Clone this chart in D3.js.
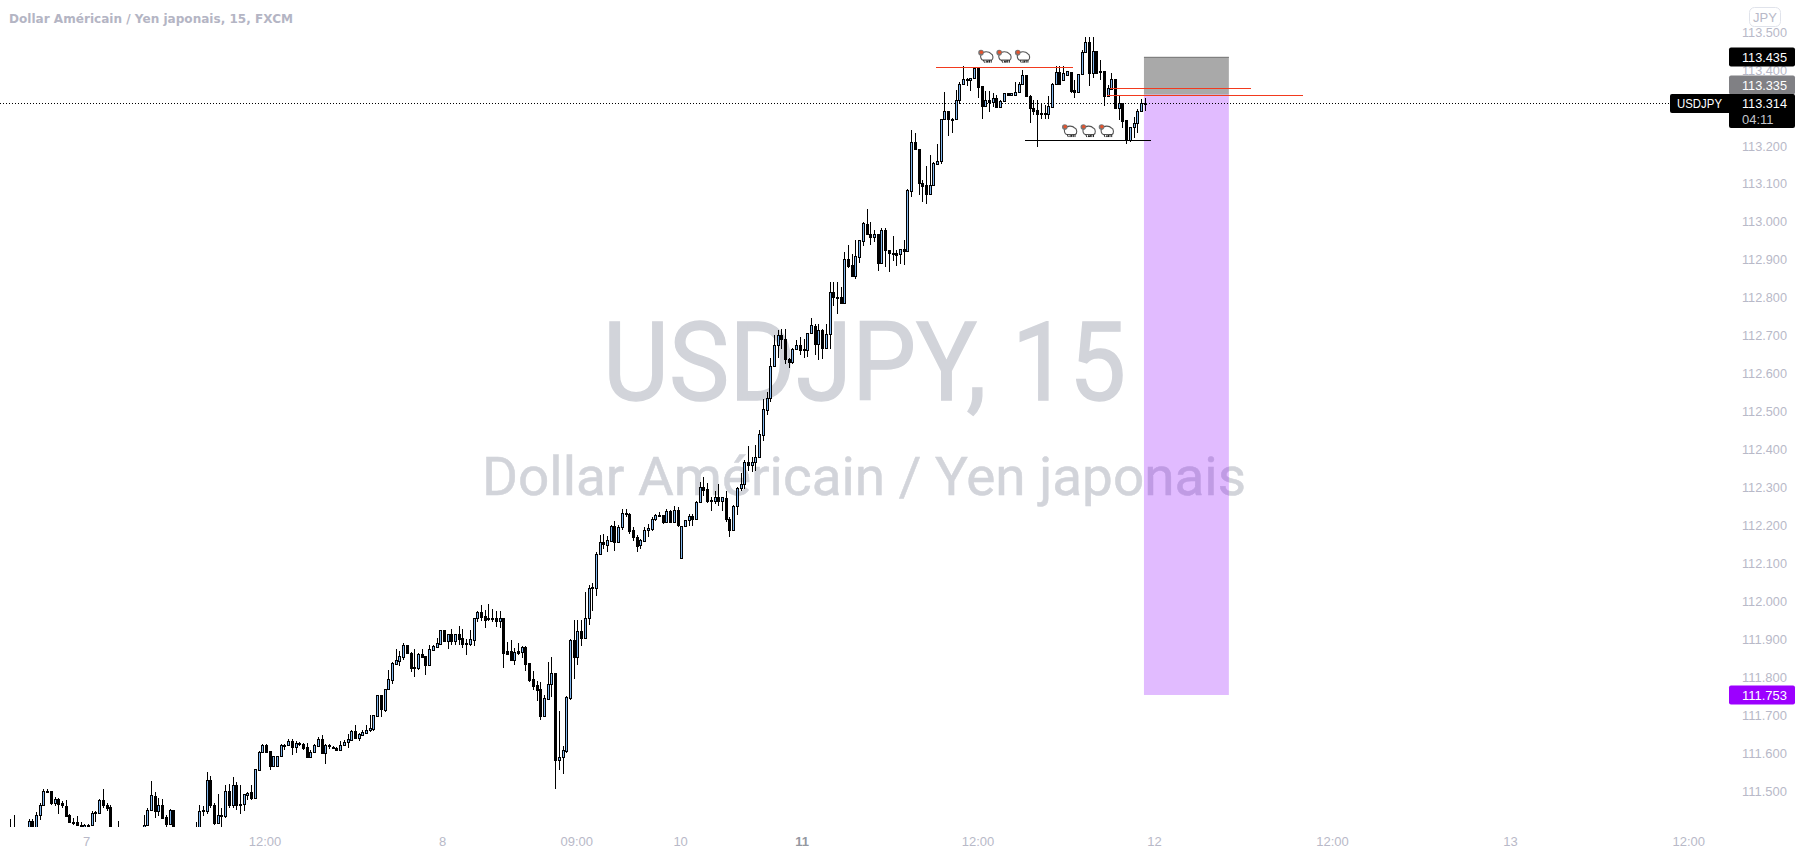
<!DOCTYPE html>
<html><head><meta charset="utf-8">
<style>html,body{margin:0;padding:0;background:#fff;overflow:hidden}svg{display:block}</style>
<script src="https://cdnjs.cloudflare.com/ajax/libs/d3/7.8.5/d3.min.js"></script>
</head><body><div id="chart"></div>
<script>
// [open, high, low, close]
const barsA = [
[111.37,111.406,111.36,111.38],[111.37,111.39,111.34,111.38],[111.38,111.427,111.36,111.38],[111.38,111.438,111.35,111.39],[111.37,111.39,111.34,111.36],[111.36,111.38,111.34,111.37],[111.37,111.39,111.35,111.38],
[111.39,111.427,111.37,111.42],[111.42,111.425,111.37,111.39],[111.403,111.444,111.39,111.438],[111.437,111.469,111.424,111.464],[111.462,111.506,111.46,111.501],[111.501,111.504,111.498,111.499],[111.499,111.501,111.463,111.469],[111.469,111.484,111.461,111.48],[111.48,111.481,111.44,111.466],[111.468,111.473,111.455,111.462],[111.461,111.477,111.435,111.435],[111.437,111.44,111.417,111.418],[111.419,111.429,111.41,111.416],[111.417,111.435,111.41,111.411],[111.411,111.418,111.4,111.405],[111.404,111.413,111.398,111.41],[111.407,111.413,111.405,111.411],[111.411,111.446,111.41,111.443],[111.442,111.447,111.417,111.444],[111.443,111.479,111.441,111.476],[111.475,111.506,111.454,111.462],[111.464,111.469,111.447,111.455],[111.457,111.464,111.36,111.38],
[111.38,111.40,111.35,111.37],[111.38,111.42,111.36,111.39],[111.37,111.39,111.35,111.38],[111.37,111.39,111.35,111.36],[111.36,111.38,111.34,111.37],[111.37,111.39,111.35,111.38],[111.37,111.39,111.35,111.36],[111.36,111.39,111.34,111.38],
[111.39,111.436,111.37,111.411],[111.41,111.454,111.407,111.451],[111.45,111.526,111.448,111.489],[111.488,111.498,111.429,111.448],[111.447,111.482,111.433,111.462],[111.462,111.478,111.427,111.429],[111.431,111.438,111.39,111.413],[111.412,111.452,111.41,111.449],[111.449,111.451,111.37,111.39],[111.39,111.404,111.36,111.38],
[111.38,111.395,111.36,111.37],[111.37,111.39,111.35,111.38]
];
const barsB = [
[111.37,111.39,111.35,111.36],[111.37,111.39,111.35,111.38],[111.38,111.418,111.36,111.39],[111.39,111.464,111.37,111.446],[111.449,111.46,111.433,111.446],[111.448,111.55,111.44,111.528],[111.528,111.539,111.455,111.462],[111.464,111.469,111.41,111.416],[111.416,111.493,111.416,111.438],[111.438,111.454,111.39,111.435],[111.435,111.517,111.429,111.499],[111.499,111.519,111.454,111.462],[111.462,111.536,111.454,111.517],[111.517,111.523,111.451,111.464],[111.467,111.517,111.44,111.462],[111.466,111.492,111.447,111.491],[111.49,111.498,111.475,111.495],[111.497,111.517,111.477,111.482],[111.482,111.558,111.481,111.557],[111.555,111.605,111.552,111.602],
[111.602,111.624,111.599,111.621],[111.621,111.625,111.601,111.603],[111.605,111.605,111.555,111.566],[111.565,111.593,111.564,111.592],[111.565,111.593,111.564,111.592],[111.591,111.623,111.59,111.621],[111.62,111.624,111.609,111.622],[111.62,111.638,111.618,111.631],[111.631,111.638,111.594,111.616],[111.616,111.631,111.599,111.626],[111.626,111.629,111.618,111.624],[111.623,111.627,111.609,111.614],[111.616,111.627,111.59,111.59],[111.59,111.609,111.59,111.603],[111.603,111.624,111.601,111.621],[111.619,111.642,111.618,111.636],[111.636,111.647,111.601,111.601],[111.601,111.623,111.572,111.621],[111.618,111.625,111.611,111.62],[111.617,111.618,111.611,111.615],[111.614,111.616,111.607,111.609],[111.609,111.633,111.607,111.62],[111.62,111.634,111.618,111.629],[111.628,111.649,111.614,111.636],[111.635,111.66,111.633,111.658],[111.658,111.674,111.638,111.64],[111.64,111.652,111.631,111.649],[111.648,111.662,111.644,111.655],[111.654,111.674,111.651,111.66],[111.66,111.70,111.656,111.665],[111.664,111.70,111.658,111.70]
];
const barsC = [
[111.697,111.754,111.695,111.753],[111.753,111.754,111.695,111.715],[111.713,111.768,111.709,111.768],[111.768,111.82,111.765,111.794],[111.792,111.841,111.783,111.836],[111.835,111.873,111.834,111.844],[111.843,111.869,111.829,111.855],[111.853,111.889,111.844,111.885],[111.885,111.885,111.862,111.863],[111.864,111.866,111.813,111.825],[111.827,111.873,111.801,111.826],[111.825,111.863,111.82,111.861],[111.861,111.873,111.851,111.854],[111.856,111.856,111.805,111.832],[111.832,111.885,111.829,111.873],[111.872,111.886,111.869,111.881],[111.879,111.902,111.876,111.889],[111.888,111.924,111.886,111.923],[111.923,111.923,111.895,111.896],[111.895,111.913,111.875,111.913],[111.913,111.926,111.886,111.895],[111.895,111.915,111.886,111.913],[111.913,111.935,111.886,111.901],[111.902,111.926,111.876,111.888],[111.891,111.90,111.858,111.888],[111.888,111.923,111.882,111.90],
[111.899,111.957,111.882,111.957],[111.957,111.974,111.946,111.972],[111.972,111.99,111.948,111.958],[111.96,111.977,111.93,111.95],[111.955,111.994,111.948,111.952],[111.955,111.979,111.946,111.952],[111.955,111.974,111.932,111.949],[111.949,111.974,111.93,111.955],[111.955,111.957,111.825,111.864],[111.868,111.893,111.858,111.862],[111.868,111.897,111.844,111.845],[111.846,111.877,111.833,111.866],[111.868,111.891,111.858,111.864],[111.867,111.882,111.851,111.879],[111.879,111.882,111.816,111.835],[111.837,111.837,111.788,111.792],[111.794,111.816,111.767,111.776],[111.779,111.789,111.737,111.767],[111.768,111.786,111.688,111.697],[111.698,111.754,111.697,111.744],[111.743,111.84,111.741,111.781],[111.781,111.853,111.747,111.81],
[111.81,111.81,111.506,111.581],[111.581,111.711,111.555,111.59],[111.59,111.619,111.546,111.607],[111.605,111.751,111.601,111.748],[111.746,111.90,111.739,111.898],[111.898,111.95,111.794,111.854],[111.854,111.95,111.831,111.921],[111.921,111.95,111.883,111.902],[111.902,112.024,111.902,111.956],[111.955,112.044,111.937,112.035],[112.037,112.048,111.975,112.034]
];
const barsD = [
[112.034,112.129,112.014,112.124],[112.124,112.175,112.122,112.155],[112.156,112.177,112.137,112.151],[112.149,112.173,112.129,112.162],[112.159,112.202,112.155,112.198],[112.198,112.212,112.133,112.156],[112.156,112.202,112.155,112.195],[112.195,112.243,112.188,112.232],[112.23,112.243,112.221,112.233],[112.23,112.232,112.177,112.186],[112.188,112.195,112.159,112.168],[112.17,112.174,112.131,112.146],[112.147,112.164,112.137,112.161],[112.159,112.196,112.158,112.188],[112.187,112.203,112.168,112.193],[112.191,112.223,112.186,112.217],[112.216,112.23,112.212,112.228],[112.226,112.234,112.221,112.228],[112.228,112.228,112.203,112.208],[112.208,112.243,112.206,112.239],[112.239,112.24,112.208,112.21],[112.21,112.25,112.208,112.241],[112.241,112.249,112.195,112.202],
[112.114,112.199,112.113,112.198],[112.197,112.215,112.197,112.215],[112.214,112.23,112.199,112.225],[112.225,112.23,112.199,112.216],[112.216,112.265,112.216,112.262],[112.261,112.315,112.259,112.302],[112.302,112.327,112.278,112.294],[112.296,112.311,112.259,112.265],[112.268,112.274,112.239,112.265],[112.263,112.291,112.256,112.274],[112.275,112.309,112.252,112.264],[112.263,112.276,112.239,112.274],[112.273,112.291,112.208,112.216],[112.218,112.221,112.17,112.189],[112.188,112.254,112.186,112.252],[112.25,112.302,112.228,112.299],[112.298,112.338,112.291,112.31],[112.309,112.371,112.296,112.368],[112.367,112.41,112.344,112.359],[112.359,112.379,112.34,112.367],[112.366,112.413,112.344,112.381],[112.379,112.452,112.378,112.441],[112.439,112.532,112.422,112.507],[112.505,112.551,112.492,112.536],[112.535,112.642,112.525,112.621],[112.62,112.701,112.62,112.676],[112.675,112.714,112.642,112.702],[112.702,112.718,112.665,112.692],[112.692,112.718,112.626,112.639],[112.639,112.642,112.614,112.63],[112.63,112.667,112.626,112.665],[112.664,112.689,112.661,112.676],[112.676,112.696,112.648,112.663],[112.664,112.692,112.642,112.662],[112.662,112.708,112.643,112.708],[112.707,112.747,112.705,112.727],[112.726,112.73,112.648,112.679],[112.678,112.73,112.636,112.716],[112.716,112.718,112.639,112.668],[112.668,112.73,112.665,112.705]
];
const barsE = [
[112.705,112.841,112.665,112.815],[112.815,112.841,112.779,112.801],[112.803,112.841,112.757,112.801],[112.803,112.828,112.786,112.786],[112.786,112.92,112.786,112.903],[112.903,112.938,112.879,112.883],[112.885,112.916,112.857,112.857],[112.857,112.951,112.848,112.909],[112.907,112.953,112.891,112.951],[112.949,113.0,112.936,112.997],[112.995,113.033,112.967,112.968],[112.969,113.0,112.938,112.96],[112.96,112.979,112.947,112.969],[112.969,112.969,112.87,112.892],[112.892,112.984,112.889,112.979],[112.979,112.984,112.881,112.926],[112.926,112.926,112.867,112.918],[112.918,112.962,112.896,112.915],[112.917,112.925,112.883,112.913],[112.914,112.929,112.889,112.929],[112.929,112.953,112.885,112.923],[112.923,113.085,112.923,113.083],
[113.081,113.242,113.064,113.209],[113.209,113.233,113.189,113.191],[113.191,113.191,113.07,113.101],[113.101,113.11,113.052,113.095],[113.096,113.147,113.048,113.074],[113.073,113.176,113.073,113.098],[113.098,113.158,113.096,113.154],[113.153,113.206,113.149,113.161],[113.161,113.272,113.151,113.271],[113.27,113.343,113.268,113.292],[113.292,113.292,113.227,113.27],[113.272,113.274,113.234,113.269],[113.271,113.347,113.269,113.322],[113.32,113.367,113.31,113.364],[113.364,113.41,113.36,113.375],[113.373,113.379,113.357,113.376],[113.374,113.38,113.345,113.38],[113.379,113.408,113.377,113.405],[113.405,113.405,113.325,113.355],[113.357,113.357,113.272,113.305],[113.305,113.345,113.305,113.322],[113.322,113.345,113.289,113.316],[113.316,113.338,113.303,113.327],[113.326,113.333,113.301,113.303],[113.303,113.32,113.301,113.317],[113.317,113.34,113.316,113.338],[113.338,113.34,113.333,113.335],[113.335,113.34,113.333,113.338],[113.335,113.369,113.333,113.343],[113.342,113.369,113.34,113.364],[113.364,113.399,113.36,113.386],[113.386,113.386,113.329,113.332]
];
const barsF = [
[113.331,113.333,113.259,113.299],[113.299,113.321,113.281,113.293],[113.294,113.321,113.198,113.284],[113.286,113.312,113.272,113.285],[113.286,113.308,113.272,113.284],[113.285,113.331,113.272,113.305],[113.303,113.365,113.301,113.363],[113.362,113.411,113.36,113.394],[113.394,113.411,113.36,113.362],[113.374,113.411,113.374,113.391],[113.387,113.398,113.387,113.396],[113.394,113.394,113.34,113.345],[113.347,113.374,113.327,113.343],[113.343,113.389,113.343,113.389],[113.389,113.452,113.387,113.447],[113.447,113.486,113.444,113.473],[113.473,113.486,113.359,113.391],[113.391,113.486,113.378,113.451],[113.451,113.451,113.391,113.391],[113.397,113.426,113.374,113.394],[113.396,113.396,113.306,113.331],[113.331,113.36,113.331,113.352],[113.35,113.391,113.35,113.375],[113.375,113.375,113.296,113.299],[113.299,113.331,113.268,113.314],[113.314,113.314,113.246,113.266],[113.268,113.268,113.206,113.215],[113.215,113.25,113.211,113.25],[113.249,113.277,113.22,113.259],[113.259,113.296,113.233,113.293],[113.293,113.323,113.29,113.312],[113.313,113.325,113.293,113.314]
];
const bars = [...barsA, ...barsB, ...barsC, ...barsD, ...barsE, ...barsF];

const priceTicks = [113.5,113.4,113.2,113.1,113.0,112.9,112.8,112.7,112.6,112.5,112.4,112.3,112.2,112.1,112.0,111.9,111.8,111.7,111.6,111.5];
const timeLabels = ["7","12:00","8","09:00","10","11","12:00","12","12:00","13","12:00"];
const timeBars = [22.5,70.6,118.5,154.7,182.7,215.5,262.9,310.5,358.5,406.5,454.6];
const lastPrice = 113.314, stopPrice = 113.435, entryPrice = 113.335, targetPrice = 111.753;
const boxBars = [307.8,330.7];
const redSegments = [[251.7,288.6,113.409],[298.6,336.6,113.352],[297.7,350.7,113.334]];
const blackSegment = [275.7,309.6,113.215];
const sheepTop = [[265.2,113.435],[270.1,113.435],[275.1,113.435]];
const sheepBottom = [[287.8,113.239],[292.8,113.239],[297.7,113.239]];

const W=1801,H=858,paneR=1729,paneB=827;
const x=d3.scaleLinear().domain([0,308]).range([2.7,1144.7]);
const y=d3.scaleLinear().domain([113.5,111.5]).range([32,791]);
const svg=d3.select("#chart").append("svg").attr("width",W).attr("height",H);
svg.append("rect").attr("width",W).attr("height",H).attr("fill","#fff");
svg.append("clipPath").attr("id","pane").append("rect").attr("width",paneR).attr("height",paneB);

// watermarks
const wm=svg.append("g").attr("fill","#d2d4da").attr("stroke","#d2d4da").attr("font-family","Roboto").attr("text-anchor","start");
wm.append("text").attr("x",603).attr("y",400).attr("font-size",110).attr("stroke-width",1.4).attr("textLength",523).attr("lengthAdjust","spacingAndGlyphs").text("USDJPY, 15");
wm.append("text").attr("x",482).attr("y",495).attr("font-size",53).attr("stroke-width",0.5).attr("textLength",764).attr("lengthAdjust","spacingAndGlyphs").text("Dollar Américain / Yen japonais");

const pane=svg.append("g").attr("clip-path","url(#pane)");
// position box: translucent fills so the watermark shows through
pane.append("rect").attr("x",x(boxBars[0])).attr("width",x(boxBars[1])-x(boxBars[0])).attr("y",y(stopPrice)).attr("height",y(entryPrice)-y(stopPrice)).attr("fill","#000").attr("fill-opacity",0.337);
pane.append("rect").attr("x",x(boxBars[0])).attr("width",x(boxBars[1])-x(boxBars[0])).attr("y",y(entryPrice)).attr("height",y(targetPrice)-y(entryPrice)).attr("fill","#8f00ff").attr("fill-opacity",0.265);
[stopPrice,entryPrice].forEach(p=>pane.append("line").attr("x1",x(boxBars[0])).attr("x2",x(boxBars[1])).attr("y1",Math.round(y(p))+.5).attr("y2",Math.round(y(p))+.5).attr("stroke","#808080"));

// last price line
pane.append("line").attr("x1",0).attr("x2",1670).attr("y1",Math.round(y(lastPrice))+.5).attr("y2",Math.round(y(lastPrice))+.5).attr("stroke","#000").attr("stroke-dasharray","1,2");

// candles
const cg=pane.append("g").attr("shape-rendering","crispEdges");
const c=cg.selectAll("g").data(bars).join("g").attr("transform",(d,i)=>`translate(${Math.round(x(i))},0)`);
c.append("rect").attr("x",0).attr("width",1).attr("fill","#000")
 .attr("y",d=>Math.round(y(Math.max(d[0],d[1],d[2],d[3])))).attr("height",d=>Math.max(1,Math.round(y(Math.min(d[0],d[1],d[2],d[3])))-Math.round(y(Math.max(d[0],d[1],d[2],d[3])))));
const top_=d=>Math.round(y(Math.max(d[0],d[3]))), bot_=d=>Math.round(y(Math.min(d[0],d[3])));
c.append("rect").attr("x",-1).attr("width",3).attr("fill","#000").attr("y",top_).attr("height",d=>Math.max(2,bot_(d)-top_(d)+1));
c.filter(d=>d[3]>=d[0]&&bot_(d)-top_(d)>=2).append("rect").attr("x",0).attr("width",1).attr("fill","#82b8f0").attr("y",d=>top_(d)+1).attr("height",d=>bot_(d)-top_(d)-1);

// drawn lines
const lg=pane.append("g").attr("shape-rendering","crispEdges");
redSegments.forEach(s=>lg.append("line").attr("x1",x(s[0])).attr("x2",x(s[1])).attr("y1",Math.round(y(s[2]))+.5).attr("y2",Math.round(y(s[2]))+.5).attr("stroke","#f23a1e"));
lg.append("line").attr("x1",x(blackSegment[0])).attr("x2",x(blackSegment[1])).attr("y1",Math.round(y(blackSegment[2]))+.5).attr("y2",Math.round(y(blackSegment[2]))+.5).attr("stroke","#000");

// sheep
function sheep(d){
  const g=pane.append("g").attr("transform",`translate(${x(d[0])},${y(d[1])})`);
  g.append("path").attr("d","M-5,-2 C-3,-6 3,-5.5 5,-3 C7.5,-2 7.5,2.5 5.5,3.5 L-3,3.5 C-5,3 -6,0 -5,-2 Z").attr("fill","#fff").attr("stroke","#555").attr("stroke-width",1.1);
  g.append("circle").attr("cx",-5).attr("cy",-4).attr("r",2.8).attr("fill","#777");
  g.append("circle").attr("cx",-4.6).attr("cy",-4.4).attr("r",1.7).attr("fill","#e5532d");
  g.append("path").attr("d","M-2.5,3.5 L-1.5,6 M0,6 L0.5,4 M1,6 L2,4 L2,6 M3.5,3.5 L3.5,6 M5.2,3.5 L5.2,6").attr("stroke","#222").attr("stroke-width",1).attr("fill","none");
}
sheepTop.forEach(sheep); sheepBottom.forEach(sheep);

// title
svg.append("text").attr("x",9).attr("y",23).attr("font-family","'DejaVu Sans'").attr("font-weight","bold").attr("font-size",12.5).attr("fill","#b4b5c4").attr("textLength",284).attr("lengthAdjust","spacingAndGlyphs").text("Dollar Américain / Yen japonais, 15, FXCM");

// price axis
const axisFont="'Liberation Sans'";
const yAxis=d3.axisRight(y).tickValues(priceTicks).tickFormat(d3.format(".3f")).tickSize(0).tickPadding(0);
const ya=svg.append("g").attr("transform","translate(1742,0)").call(yAxis);
ya.select(".domain").remove();
ya.selectAll("text").attr("font-family",axisFont).attr("font-size",13).attr("fill","#b8b9c8").attr("textLength",45).attr("lengthAdjust","spacingAndGlyphs");

// time axis
const xAxis=d3.axisBottom(x).tickValues(timeBars).tickFormat((d,i)=>timeLabels[i]).tickSize(0).tickPadding(0);
const xa=svg.append("g").attr("transform","translate(0,837)").call(xAxis);
xa.select(".domain").remove();
xa.selectAll("text").attr("font-family",axisFont).attr("font-size",13).attr("fill","#b8b9c8").attr("dy","0.71em").attr("y",0);
xa.selectAll("text").filter((d,i)=>timeLabels[i]==="11").attr("fill","#9598a1").attr("font-weight","bold");

// JPY button
svg.append("rect").attr("x",1749.5).attr("y",7.5).attr("width",31).attr("height",19).attr("rx",5).attr("fill","#fff").attr("stroke","#e0e3eb");
svg.append("text").attr("x",1765).attr("y",21.5).attr("text-anchor","middle").attr("font-family",axisFont).attr("font-size",13).attr("fill","#b8b9c8").text("JPY");

// price labels
function tag(x0,w,yT,h,fill){svg.append("rect").attr("x",x0).attr("y",yT).attr("width",w).attr("height",h).attr("rx",2).attr("fill",fill);}
function tagText(t,xx,yy,fill,len){const e=svg.append("text").attr("x",xx).attr("y",yy).attr("font-family",axisFont).attr("font-size",13).attr("fill",fill).text(t);if(len)e.attr("textLength",len).attr("lengthAdjust","spacingAndGlyphs");}
const fmt=d3.format(".3f");
// a tag can be pushed off its price (shift) when it would collide with the next one
function priceTag(p,fill,shift){const cp=Math.round(y(p))+(shift||0);tag(1729,66,cp-9.5,19,fill);tagText(fmt(p),1742,cp+4.5,"#fff",45);}
priceTag(stopPrice,"#000");
priceTag(entryPrice,"#808084",-10);
const cy=Math.round(y(lastPrice));
tag(1670,70,cy-9,19,"#000");
tag(1729,66,cy-9,34,"#000");
tagText("USDJPY",1677,cy+5,"#fff",45);
tagText(fmt(lastPrice),1742,cy+5,"#fff",45);
tagText("04:11",1742,cy+21,"#c4c6cc");
priceTag(targetPrice,"#9c00ff");
</script></body></html>
